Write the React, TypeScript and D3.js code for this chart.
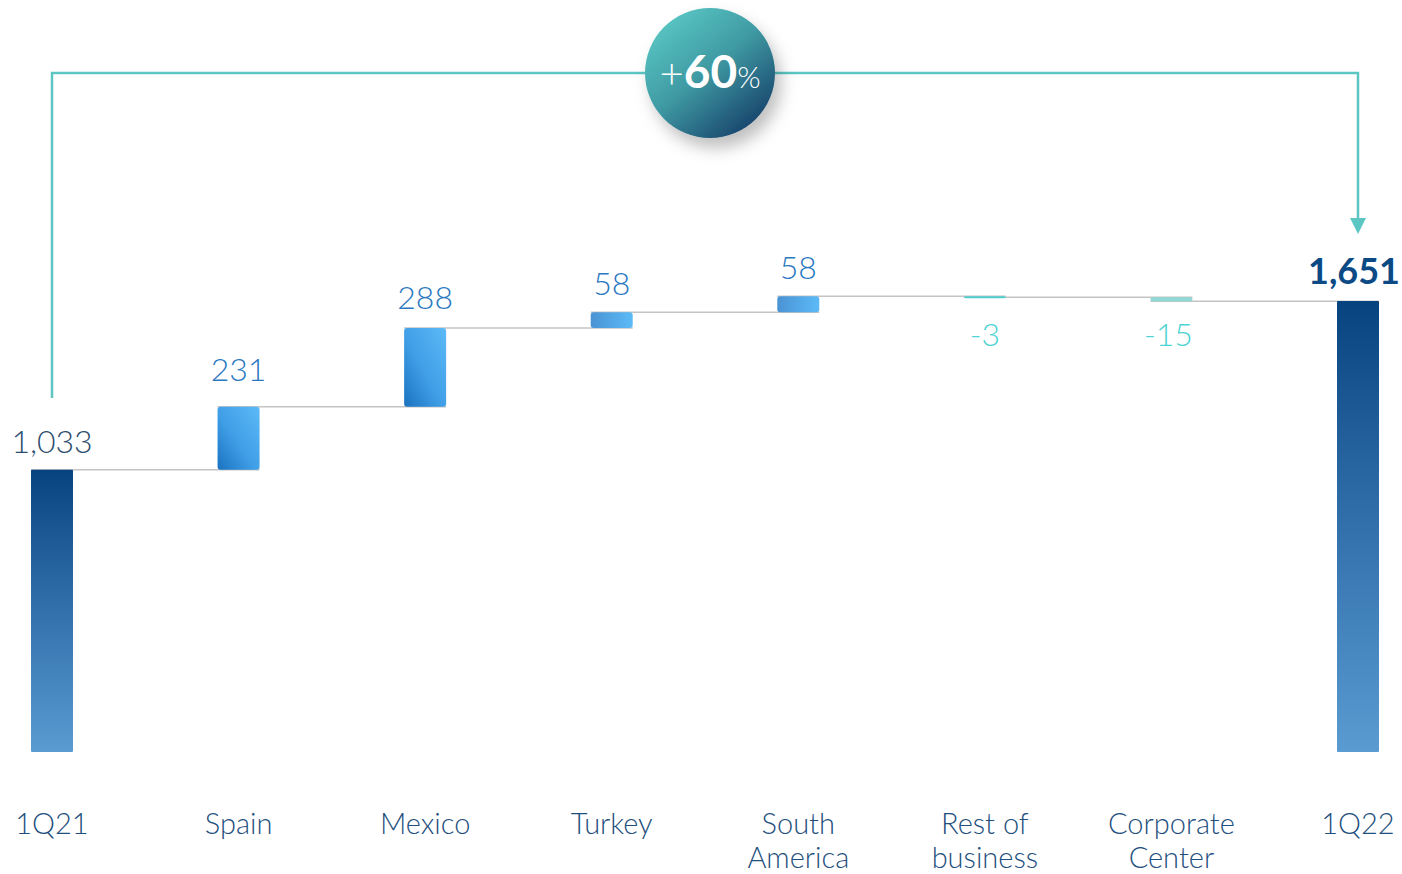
import React from "react";
import * as d3 from "d3";

const categories = ["1Q21", "Spain", "Mexico", "Turkey", "South America", "Rest of business", "Corporate Center", "1Q22"];
const categoryLines = [["1Q21"], ["Spain"], ["Mexico"], ["Turkey"], ["South", "America"], ["Rest of", "business"], ["Corporate", "Center"], ["1Q22"]];
const values = [1033, 231, 288, 58, 58, -3, -15, 1651];
const kinds = ["total", "delta", "delta", "delta", "delta", "delta", "delta", "total"];
const valueLabels = ["1,033", "231", "288", "58", "58", "-3", "-15", "1,651"];
const growthLabel = "60";

const W = 1402;
const H = 874;
const FONT = "Lato, 'Open Sans', sans-serif";

export default function App() {
  const x = d3.scalePoint<string>().domain(categories).range([52, 1358]);
  const y = d3.scaleLinear().domain([0, 1651]).range([752, 301]);
  const bw = 42;

  let running = 0;
  const segs = values.map((v, i) => {
    let start: number, end: number;
    if (kinds[i] === "total") {
      start = 0;
      end = v;
      running = v;
    } else {
      start = running;
      end = running + v;
      running = end;
    }
    return { cat: categories[i], v, start, end, kind: kinds[i], i };
  });

  const bracketY = 73;
  const x0 = x(categories[0])!;
  const x1 = x(categories[categories.length - 1])!;
  const cx = 710;

  return (
    <svg width={W} height={H} style={{ position: "absolute", left: 0, top: 0, background: "#fff" }}>
      <defs>
        <linearGradient id="totalGrad" x1="0" y1="0" x2="0" y2="1">
          <stop offset="0%" stopColor="#07437f" />
          <stop offset="45%" stopColor="#2e6ca8" />
          <stop offset="100%" stopColor="#5a9bd1" />
        </linearGradient>
        <linearGradient id="deltaGrad" x1="1" y1="0" x2="0" y2="1">
          <stop offset="0%" stopColor="#5cbaf7" />
          <stop offset="55%" stopColor="#3f9ee6" />
          <stop offset="100%" stopColor="#1b72c0" />
        </linearGradient>
        <linearGradient id="smallGrad" x1="1" y1="0" x2="0" y2="0">
          <stop offset="0%" stopColor="#5cbaf7" />
          <stop offset="100%" stopColor="#4a93d3" />
        </linearGradient>
        <linearGradient id="circleGrad" x1="0.15" y1="0.1" x2="0.85" y2="0.95">
          <stop offset="0%" stopColor="#58c4c2" />
          <stop offset="45%" stopColor="#3f9aa3" />
          <stop offset="100%" stopColor="#163f69" />
        </linearGradient>
        <filter id="shadow" x="-50%" y="-50%" width="200%" height="200%">
          <feDropShadow dx="6" dy="10" stdDeviation="8" floodColor="#000" floodOpacity="0.25" />
        </filter>
      </defs>

      {segs.slice(0, -1).map((s, i) => {
        const next = segs[i + 1];
        const level = s.end;
        return (
          <line
            key={"c" + i}
            x1={x(s.cat)! - bw / 2}
            x2={x(next.cat)! + bw / 2}
            y1={y(level)}
            y2={y(level)}
            stroke="#c4c4c4"
            strokeWidth={1.5}
          />
        );
      })}

      {segs.map((s) => {
        const top = y(Math.max(s.start, s.end));
        const bot = y(Math.min(s.start, s.end));
        const h = Math.max(bot - top, 2);
        let fill = "url(#totalGrad)";
        if (s.kind === "delta") {
          if (s.v < 0) fill = s.v > -10 ? "#4fcfcf" : "#8fd9d6";
          else fill = h > 30 ? "url(#deltaGrad)" : "url(#smallGrad)";
        }
        return (
          <rect
            key={"b" + s.i}
            x={x(s.cat)! - bw / 2}
            y={top}
            width={bw}
            height={h}
            rx={s.kind === "total" ? 1 : 3}
            fill={fill}
          />
        );
      })}

      {segs.map((s) => {
        const top = y(Math.max(s.start, s.end));
        let ly = top - 17;
        let color = "#2a78bf";
        let weight = 300;
        let size = 32;
        if (s.kind === "total") {
          color = s.i === 0 ? "#2e4e70" : "#0b4a85";
          weight = s.i === 0 ? 300 : 700;
          size = s.i === 0 ? 32 : 36;
        }
        if (s.i === 1) ly = top - 26;
        if (s.i === 2) ly = top - 19;
        if (s.v < 0) {
          ly = 346;
          color = "#4fd3d3";
        }
        return (
          <text
            key={"l" + s.i}
            x={x(s.cat)! + (s.i === categories.length - 1 ? -4 : s.i === 6 ? -3 : 0)}
            y={ly}
            textAnchor="middle"
            fontFamily={FONT}
            fontWeight={weight}
            fontSize={size}
            fill={color}
          >
            {valueLabels[s.i]}
          </text>
        );
      })}

      {categoryLines.map((lines, i) => (
        <text
          key={"t" + i}
          textAnchor="middle"
          fontFamily={FONT}
          fontWeight={300}
          fontSize={29}
          fill="#1e4f7d"
        >
          {lines.map((ln, j) => (
            <tspan key={j} x={x(categories[i])!} y={834 + j * 34}>
              {ln}
            </tspan>
          ))}
        </text>
      ))}

      <path
        d={`M${x0},${398} V${bracketY} H${x1} V${220}`}
        fill="none"
        stroke="#5cc6c2"
        strokeWidth={2.5}
      />
      <path d={`M${x1 - 8},${218} L${x1 + 8},${218} L${x1},${234} Z`} fill="#5cc6c2" />

      <circle cx={cx} cy={bracketY} r={65} fill="url(#circleGrad)" filter="url(#shadow)" />
      <text x={cx} y={bracketY + 15} textAnchor="middle" fontFamily={FONT} fill="#fff">
        <tspan fontSize={42} fontWeight={300}>+</tspan>
        <tspan fontSize={46} fontWeight={700}>{growthLabel}</tspan>
        <tspan fontSize={30} fontWeight={300}>%</tspan>
      </text>
    </svg>
  );
}
